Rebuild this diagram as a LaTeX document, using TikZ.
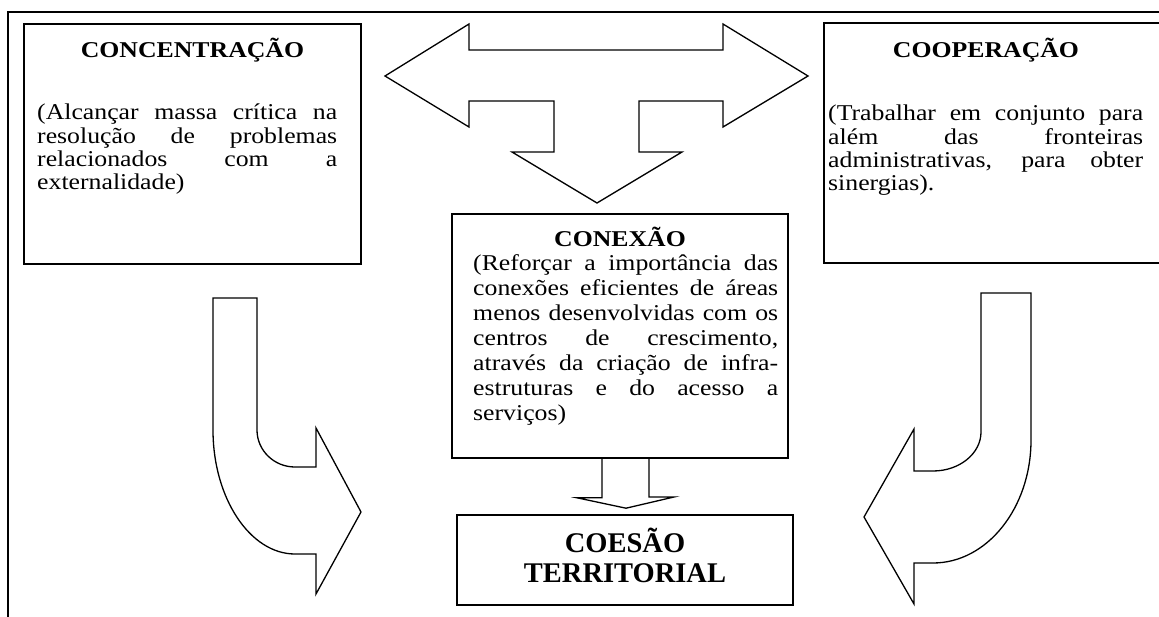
\documentclass[tikz,border=0pt]{standalone}
\usepackage{fontspec}
\setmainfont{Liberation Serif}
\newfontfamily\widefont[FakeStretch=1.14]{Liberation Serif}
\newcommand\bodyset{\lineskiplimit=-50pt\relax\hyphenpenalty=10000\relax\tolerance=9999\relax\pretolerance=-1\relax}
\begin{document}
\begin{tikzpicture}[x=1pt,y=-1pt,
  box/.style={draw, line width=1.6pt, inner sep=0pt},
  arrowshape/.style={draw, line width=1.3pt, line join=miter},
  frame/.style={draw, line width=2.2pt},
  bodytext/.style={font={\widefont\fontsize{22.6}{#1}\selectfont},
     text width=300pt, align=justify, inner sep=0pt, anchor=base west},
  head/.style={font={\widefont\fontsize{22.6}{26}\selectfont\bfseries}, inner sep=0pt, anchor=base},
  bighead/.style={font={\fontsize{28.5}{30}\selectfont\bfseries}, inner sep=0pt, anchor=base}]
\useasboundingbox (0,0) rectangle (1159,617);
\clip (0,0) rectangle (1159,617);
\fill[white] (0,0) rectangle (1159,617);

% outer frame
\draw[frame] (8,617) -- (8,12) -- (1160,12);

% boxes
\node[box, minimum width=337pt, minimum height=240pt] (conc) at (192.5,144) {};
\node[box, minimum width=351pt, minimum height=240pt] (coop) at (999.5,143) {};
\node[box, minimum width=336pt, minimum height=244pt] (conex) at (620,336) {};
\node[box, minimum width=336pt, minimum height=90pt] (coes) at (625,560) {};

% texts
\node[head] (concT) at (192.5,58) {CONCENTRAÇÃO};
\node[bodytext=23.3] (concB) at (37,120) {\bodyset(Alcançar massa crítica na\linebreak resolução de problemas\linebreak relacionados com a\linebreak externalidade)};

\node[head] (coopT) at (986,58) {COOPERAÇÃO};
\node[bodytext=23.3, text width=315pt] (coopB) at (828,121) {\bodyset(Trabalhar em conjunto para\linebreak além das fronteiras\linebreak administrativas, para obter\linebreak sinergias).};

\node[head] (conexT) at (620,247) {CONEXÃO};
\node[bodytext=25, text width=305pt] (conexB) at (473,271) {\bodyset(Reforçar a importância das\linebreak conexões eficientes de áreas\linebreak menos desenvolvidas com os\linebreak centros de crescimento,\linebreak através da criação de infra-\linebreak estruturas e do acesso a\linebreak serviços)};

\node[bighead] (coesT1) at (625,552) {COESÃO};
\node[bighead] (coesT2) at (625,582) {TERRITORIAL};

% top three-way arrow
\draw[arrowshape] (385,76) -- (469,24) -- (469,50) -- (723,50) -- (723,24) -- (808,76)
  -- (723,127) -- (723,101) -- (639,101) -- (639,152) -- (682,152) -- (597,203)
  -- (512,152) -- (554,152) -- (554,101) -- (469,101) -- (469,127) -- cycle;

% small down arrow from CONEXAO to COESAO
\draw[arrowshape] ([xshift=-18pt]conex.south) -- ++(0,39) -- ++(-25,0)
  -- ([xshift=1pt,yshift=6pt]coes.north) -- (674,497) -- (649,497) -- ([xshift=29pt]conex.south);

% left curved arrow
\draw[arrowshape] (213,298) -- (257,298) -- (257,430)
  .. controls (257,450.4) and (274,467) .. (295,467) -- (316,467) -- (316,428)
  -- (361,512) -- (316,594) -- (316,554) -- (295,554)
  .. controls (250,554) and (213,498) .. (213,430) -- cycle;

% right curved arrow
\draw[arrowshape] (1031,293) -- (981,293) -- (981,432)
  .. controls (981,453.5) and (959.5,471) .. (933,471) -- (914,471) -- (914,429)
  -- (864,517) -- (914,604) -- (914,563) -- (933,563)
  .. controls (987,563) and (1031,508) .. (1031,440) -- cycle;
\end{tikzpicture}
\end{document}
